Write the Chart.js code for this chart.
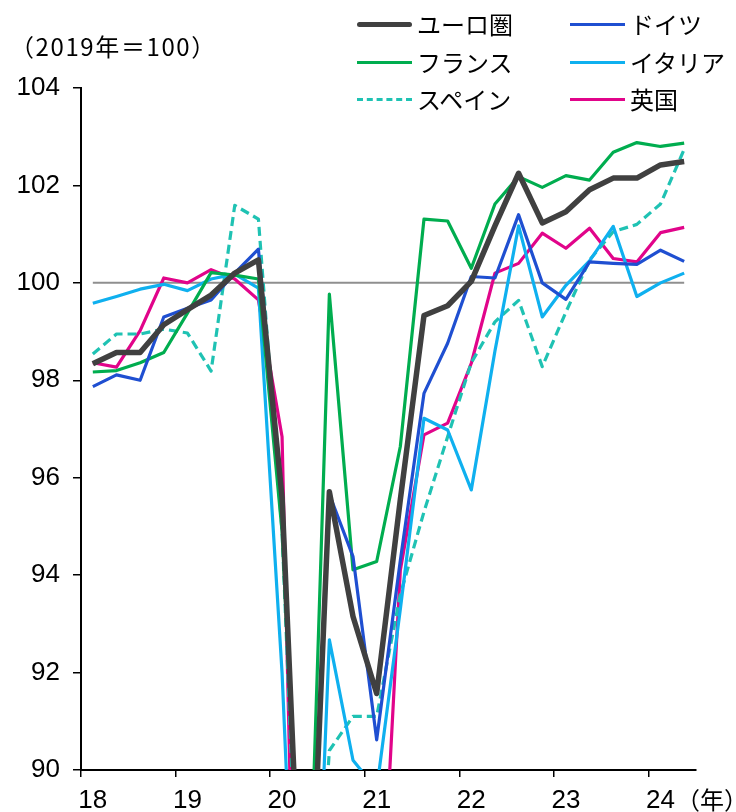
<!DOCTYPE html>
<html>
<head>
<meta charset="utf-8">
<script src="https://cdn.jsdelivr.net/npm/chart.js@4.4.1/dist/chart.umd.min.js"></script>
<style>
  html, body { margin: 0; padding: 0; background: #fff; }
  #wrap { position: relative; width: 736px; height: 812px; overflow: hidden; }
  #chart { position: absolute; left: 0; top: 0; }
  .txt { position: absolute; font-family: "Noto Sans CJK JP", "Noto Sans", sans-serif; color: #000; white-space: nowrap; line-height: 1; }
  .legline { position: absolute; height: 0; }
</style>
</head>
<body>
<div id="wrap">
  <canvas id="chart" width="736" height="812"></canvas>
  <div class="txt" id="unit" style="left:10px; top:34px; font-size:24px; letter-spacing:1.6px;">（2019年＝100）</div>
  <div class="txt" id="yearUnit" style="left:676px; top:787px; font-size:24px;">（年）</div>
  <div id="legend"></div>
</div>
<script>
// Quarterly categories, 2018 Q1 – 2024 Q2
const quarters = [
  '2018Q1','2018Q2','2018Q3','2018Q4',
  '2019Q1','2019Q2','2019Q3','2019Q4',
  '2020Q1','2020Q2','2020Q3','2020Q4',
  '2021Q1','2021Q2','2021Q3','2021Q4',
  '2022Q1','2022Q2','2022Q3','2022Q4',
  '2023Q1','2023Q2','2023Q3','2023Q4',
  '2024Q1','2024Q2'
];
// Year labels shown under each Q1
const yearLabels = ['18', '19', '20', '21', '22', '23', '24'];
const yTicks = [90, 92, 94, 96, 98, 100, 102, 104];
const BASELINE = 100;

// Index values (2019 = 100)
const euroArea = [98.34, 98.57, 98.57, 99.14, 99.45, 99.75, 100.20, 100.47,
                  95.60, 84.30, 95.71, 93.15, 91.57, 95.55, 99.33, 99.53,
                  100.03, 101.17, 102.25, 101.23, 101.46, 101.91, 102.15, 102.15,
                  102.42, 102.49];
const germany  = [97.87, 98.11, 98.00, 99.30, 99.48, 99.65, 100.20, 100.69,
                  95.50, 84.00, 95.66, 94.38, 90.62, 94.30, 97.73, 98.76,
                  100.13, 100.10, 101.40, 100.00, 99.66, 100.43, 100.40, 100.38,
                  100.67, 100.44];
const france   = [98.17, 98.20, 98.36, 98.57, 99.38, 100.21, 100.16, 100.08,
                  94.90, 84.60, 99.77, 94.11, 94.28, 96.64, 101.31, 101.27,
                  100.30, 101.62, 102.18, 101.96, 102.20, 102.11, 102.68, 102.88,
                  102.80, 102.87];
const italy    = [99.58, 99.72, 99.87, 99.97, 99.84, 100.08, 100.18, 99.89,
                  92.00, 80.80, 92.67, 90.20, 89.60, 93.30, 97.22, 96.98,
                  95.75, 98.60, 101.17, 99.30, 99.95, 100.45, 101.16, 99.72,
                  100.00, 100.20];
const spain    = [98.54, 98.95, 98.95, 99.05, 98.97, 98.19, 101.59, 101.31,
                  94.90, 83.00, 90.40, 91.10, 91.10, 93.60, 95.30, 96.84,
                  98.36, 99.20, 99.64, 98.28, 99.40, 100.47, 101.05, 101.20,
                  101.62, 102.74];
const uk       = [98.36, 98.27, 99.02, 100.10, 100.00, 100.27, 100.08, 99.65,
                  96.84, 76.00, 88.50, 88.00, 84.90, 94.10, 96.88, 97.12,
                  98.35, 100.20, 100.40, 101.02, 100.71, 101.12, 100.50, 100.43,
                  101.03, 101.14];

const seriesNames  = ['ユーロ圏', 'ドイツ', 'フランス', 'イタリア', 'スペイン', '英国'];
const seriesData   = [euroArea, germany, france, italy, spain, uk];
const seriesColors = ['#404040', '#1f4fd1', '#00ad4f', '#0fb0ef', '#1fc2b3', '#e1048a'];
const seriesWidths = [5.5, 3.2, 3.2, 3.2, 3.2, 3.2];
const seriesDashes = [[], [], [], [], [9, 5], []];

const datasets = seriesNames.map((name, i) => ({
  label: name,
  data: seriesData[i],
  borderColor: seriesColors[i],
  backgroundColor: seriesColors[i],
  borderWidth: seriesWidths[i],
  borderDash: seriesDashes[i],
  borderJoinStyle: 'round',
  borderCapStyle: 'butt',
  pointRadius: 0,
  tension: 0,
  fill: false,
  clip: 0
}));

// Horizontal reference line at 100, spanning first to last quarter
const baselinePlugin = {
  id: 'baseline',
  beforeDatasetsDraw(chart) {
    const { ctx, scales: { x, y } } = chart;
    const yPix = y.getPixelForValue(BASELINE);
    const x0 = x.getPixelForValue(0);
    const x1 = x.getPixelForValue(quarters.length - 1);
    ctx.save();
    ctx.strokeStyle = '#8f8f8f';
    ctx.lineWidth = 2;
    ctx.beginPath();
    ctx.moveTo(x0, yPix);
    ctx.lineTo(x1, yPix);
    ctx.stroke();
    ctx.restore();
  }
};

const axisFont = { family: '"Liberation Sans", Arial, sans-serif', size: 26 };

new Chart(document.getElementById('chart'), {
  type: 'line',
  data: { labels: quarters, datasets },
  options: {
    responsive: false,
    animation: false,
    events: [],
    layout: { padding: { top: 88, right: 40, left: 0, bottom: 0 } },
    plugins: { legend: { display: false }, tooltip: { enabled: false } },
    scales: {
      x: {
        type: 'category',
        offset: true,
        afterFit: s => { s.height = 42; },
        grid: {
          offset: true,
          drawOnChartArea: false,
          drawTicks: true,
          tickLength: 7,
          lineWidth: 1.5,
          color: ctx => (ctx.index % 4 === 0 ? '#000' : 'rgba(0,0,0,0)')
        },
        border: { color: '#000', width: 2 },
        ticks: {
          autoSkip: false,
          maxRotation: 0,
          minRotation: 0,
          padding: 8,
          color: '#000',
          font: axisFont,
          callback: (v, i) => (i % 4 === 0 ? yearLabels[i / 4] : '')
        }
      },
      y: {
        min: 90,
        max: 104,
        afterFit: s => { s.width = 81; },
        afterBuildTicks: s => { s.ticks = yTicks.map(v => ({ value: v })); },
        grid: {
          drawOnChartArea: false,
          drawTicks: true,
          tickLength: 8,
          lineWidth: 1.5,
          color: '#000'
        },
        border: { color: '#000', width: 2 },
        ticks: { padding: 13, color: '#000', font: axisFont }
      }
    }
  },
  plugins: [baselinePlugin]
});

// Legend: two columns, three rows, built from the series definitions
const legendOrder = [0, 1, 2, 3, 4, 5];
const legend = document.getElementById('legend');
legendOrder.forEach((idx, k) => {
  const col = k % 2, row = Math.floor(k / 2);
  const lx = col === 0 ? 357 : 570;
  const ly = 25 + row * 37.5;
  const line = document.createElement('div');
  line.className = 'legline';
  const w = seriesWidths[idx];
  line.style.left = lx + 'px';
  line.style.width = '55px';
  line.style.top = (ly - w / 2) + 'px';
  line.style.borderTop = w + 'px ' + (seriesDashes[idx].length ? 'dashed ' : 'solid ') + seriesColors[idx];
  if (idx === 0) line.style.borderRadius = '3px';
  legend.appendChild(line);
  const t = document.createElement('div');
  t.className = 'txt';
  t.style.left = (lx + 60) + 'px';
  t.style.top = (ly - 13) + 'px';
  t.style.fontSize = '24px';
  t.textContent = seriesNames[idx];
  legend.appendChild(t);
});
</script>
</body>
</html>
